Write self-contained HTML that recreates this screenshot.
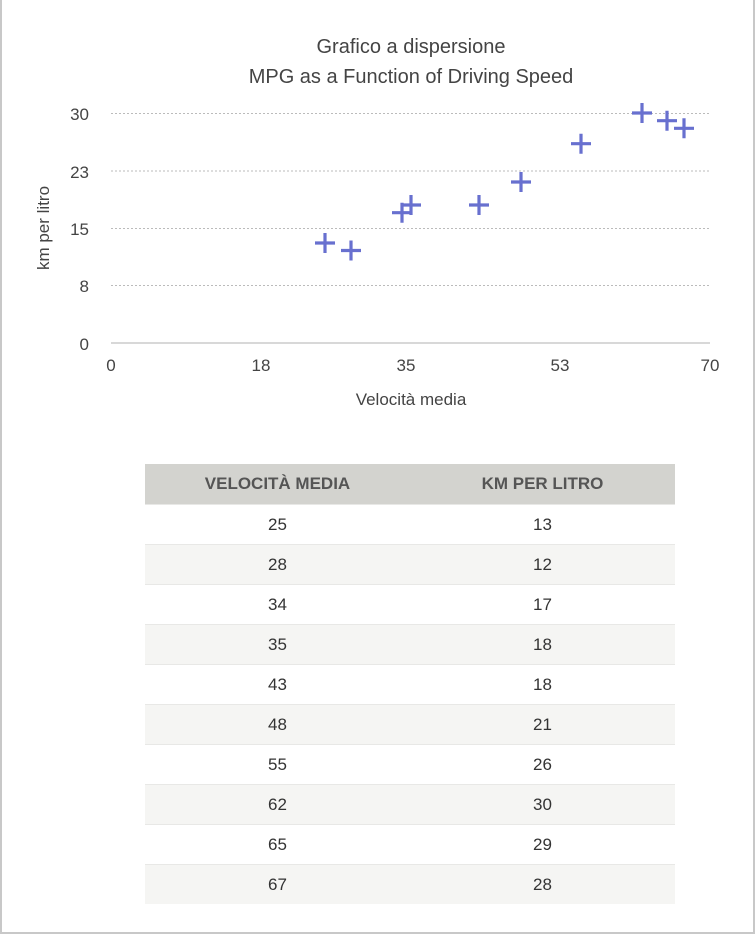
<!DOCTYPE html>
<html><head><meta charset="utf-8"><style>
html,body{margin:0;padding:0;background:#fff}
body{width:755px;height:934px;position:relative;overflow:hidden;font-family:"Liberation Sans",sans-serif}
.frame{position:absolute;left:0;top:0;width:751px;height:932px;border-left:2px solid #c8c8c8;border-right:2px solid #c8c8c8;border-bottom:2px solid #c8c8c8}
table{position:absolute;left:145px;top:464px;width:530px;border-collapse:collapse;font-size:17px;color:#333}
th{background:#d3d3cf;height:40px;padding:0;font-weight:bold;color:#555;font-size:17px;width:50%}
td{height:39px;padding:0;text-align:center;border-top:1px solid #e8e8e6}
tr:nth-child(odd) td{background:#f5f5f3}
</style></head><body>
<div class="frame"></div>
<svg width="755" height="460" style="position:absolute;left:0;top:0" font-family="Liberation Sans, sans-serif">
<text x="411" y="53" text-anchor="middle" font-size="20" fill="#444">Grafico a dispersione</text>
<text x="411" y="83" text-anchor="middle" font-size="20" fill="#444">MPG as a Function of Driving Speed</text>
<g stroke="#bbb" stroke-dasharray="2,2" stroke-width="1">
<line x1="111" x2="710" y1="113.5" y2="113.5"/><line x1="111" x2="710" y1="171" y2="171"/>
<line x1="111" x2="710" y1="228.5" y2="228.5"/><line x1="111" x2="710" y1="285.5" y2="285.5"/>
</g>
<line x1="111" x2="710" y1="343" y2="343" stroke="#ccc" stroke-width="1.5"/>
<g font-size="17" fill="#444" text-anchor="end">
<text x="89" y="120">30</text><text x="89" y="178">23</text><text x="89" y="235">15</text><text x="89" y="292">8</text><text x="89" y="350">0</text>
</g>
<g font-size="17" fill="#444" text-anchor="middle">
<text x="111" y="371">0</text><text x="261" y="371">18</text><text x="406" y="371">35</text><text x="560" y="371">53</text><text x="710" y="371">70</text>
</g>
<text x="411" y="405" text-anchor="middle" font-size="17" fill="#444">Velocità media</text>
<text transform="translate(49,228) rotate(-90)" text-anchor="middle" font-size="17" fill="#444">km per litro</text>
<g stroke="#6870cf" stroke-width="3.2" fill="none">
<path d="M315 243h20M325 233v20"/>
<path d="M341 250.5h20M351 240.5v20"/>
<path d="M392 212.7h20M402 202.7v20"/>
<path d="M401 205h20M411 195v20"/>
<path d="M469 205h20M479 195v20"/>
<path d="M511 182h20M521 172v20"/>
<path d="M571 143.7h20M581 133.7v20"/>
<path d="M632 113h20M642 103v20"/>
<path d="M657 120.7h20M667 110.7v20"/>
<path d="M674 128.3h20M684 118.3v20"/>
</g>
</svg>
<table>
<tr><th>VELOCITÀ MEDIA</th><th>KM PER LITRO</th></tr>
<tr><td>25</td><td>13</td></tr>
<tr><td>28</td><td>12</td></tr>
<tr><td>34</td><td>17</td></tr>
<tr><td>35</td><td>18</td></tr>
<tr><td>43</td><td>18</td></tr>
<tr><td>48</td><td>21</td></tr>
<tr><td>55</td><td>26</td></tr>
<tr><td>62</td><td>30</td></tr>
<tr><td>65</td><td>29</td></tr>
<tr><td>67</td><td>28</td></tr>
</table>
</body></html>
